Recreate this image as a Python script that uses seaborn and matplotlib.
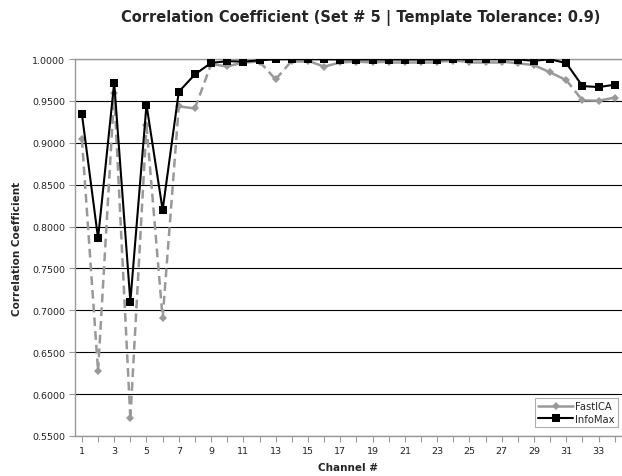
import numpy as np
import pandas as pd
import seaborn as sns
import matplotlib.pyplot as plt
from matplotlib.ticker import MultipleLocator, FormatStrFormatter

channels = list(range(1, 35))

fastica = [0.9045, 0.6276, 0.9591, 0.5711, 0.9210, 0.6905, 0.9435, 0.9411, 0.9940, 0.9913,
           0.9960, 0.9970, 0.9758, 0.9980, 0.9980, 0.9910, 0.9960, 0.9970, 0.9960, 0.9970,
           0.9970, 0.9970, 0.9970, 0.9980, 0.9970, 0.9970, 0.9970, 0.9950, 0.9928, 0.9841,
           0.9749, 0.9507, 0.9503, 0.9540]

infomax = [0.9344, 0.7860, 0.9717, 0.7103, 0.9455, 0.8198, 0.9610, 0.9817, 0.9955, 0.9975,
           0.9970, 0.9985, 0.9998, 0.9998, 0.9998, 0.9998, 0.9995, 0.9995, 0.9995, 0.9995,
           0.9995, 0.9995, 0.9995, 0.9998, 0.9998, 0.9998, 0.9998, 0.9995, 0.9980, 0.9998,
           0.9952, 0.9678, 0.9666, 0.9694]

# segments of the FastICA line that are drawn dashed (start channel)
dashed_from = [1, 2, 3, 4, 5, 6, 8, 12, 13, 31]

sns.set_style('white')
plt.rcParams['font.family'] = ['DejaVu Sans']

grey = '#999999'
fig = plt.figure(figsize=[6.22, 4.77], dpi=100)
ax = fig.add_axes([0.120, 0.084, 0.880, 0.790])

df = pd.DataFrame({'channel': channels, 'FastICA': fastica, 'InfoMax': infomax})

# FastICA line, segment by segment so some can be dashed
for i in range(len(channels) - 1):
    ls = (0, (3.5, 2)) if channels[i] in dashed_from else '-'
    ax.plot(df['channel'][i:i + 2], df['FastICA'][i:i + 2], color=grey, lw=1.8, ls=ls, zorder=3)
sns.lineplot(data=df, x='channel', y='FastICA', ax=ax, color=grey, lw=0, marker='D',
             markersize=4.5, markeredgewidth=0, zorder=4)
sns.lineplot(data=df, x='channel', y='InfoMax', ax=ax, color='black', lw=1.5, marker='s',
             markersize=6, markeredgewidth=0, zorder=5)

ax.set_xlim(0.55, 34.45)
ax.set_ylim(0.55, 1.0)
ax.yaxis.set_major_locator(MultipleLocator(0.05))
ax.yaxis.set_major_formatter(FormatStrFormatter('%.4f'))
ax.xaxis.set_major_locator(MultipleLocator(2, offset=1))
ax.xaxis.set_minor_locator(MultipleLocator(1))
ax.grid(axis='y', color='black', lw=0.8)
ax.set_axisbelow(True)
ax.tick_params(axis='both', which='both', direction='out', length=4, width=0.8,
               color=grey, labelsize=6.8, pad=3, labelcolor='#222222')
ax.tick_params(axis='x', which='both', bottom=True)
ax.tick_params(axis='y', left=True)
for s in ['left', 'bottom', 'top']:
    ax.spines[s].set_color(grey)
    ax.spines[s].set_linewidth(1)
ax.spines['right'].set_visible(False)

ax.set_xlabel('Channel #', fontsize=7.5, fontweight='bold', labelpad=5)
ax.set_ylabel('Correlation Coefficient', fontsize=7.5, fontweight='bold', labelpad=7)

h1 = plt.Line2D([], [], color=grey, lw=1.8, marker='D', markersize=4.5, markeredgewidth=0)
h2 = plt.Line2D([], [], color='black', lw=1.5, marker='s', markersize=6, markeredgewidth=0)
leg = ax.legend([h1, h2], ['FastICA', 'InfoMax'], loc='lower right', bbox_to_anchor=(0.992, 0.025),
                fontsize=7.2, frameon=True, fancybox=False, handlelength=3.5, handletextpad=0.2,
                borderpad=0.3, labelspacing=0.25, borderaxespad=0)
leg.get_frame().set_edgecolor(grey)
leg.get_frame().set_linewidth(0.8)

fig.text(0.58, 0.962, 'Correlation Coefficient (Set # 5 | Template Tolerance: 0.9)',
         ha='center', va='center', fontsize=10.5, fontweight='bold')

fig.savefig('out.png', dpi=100)
